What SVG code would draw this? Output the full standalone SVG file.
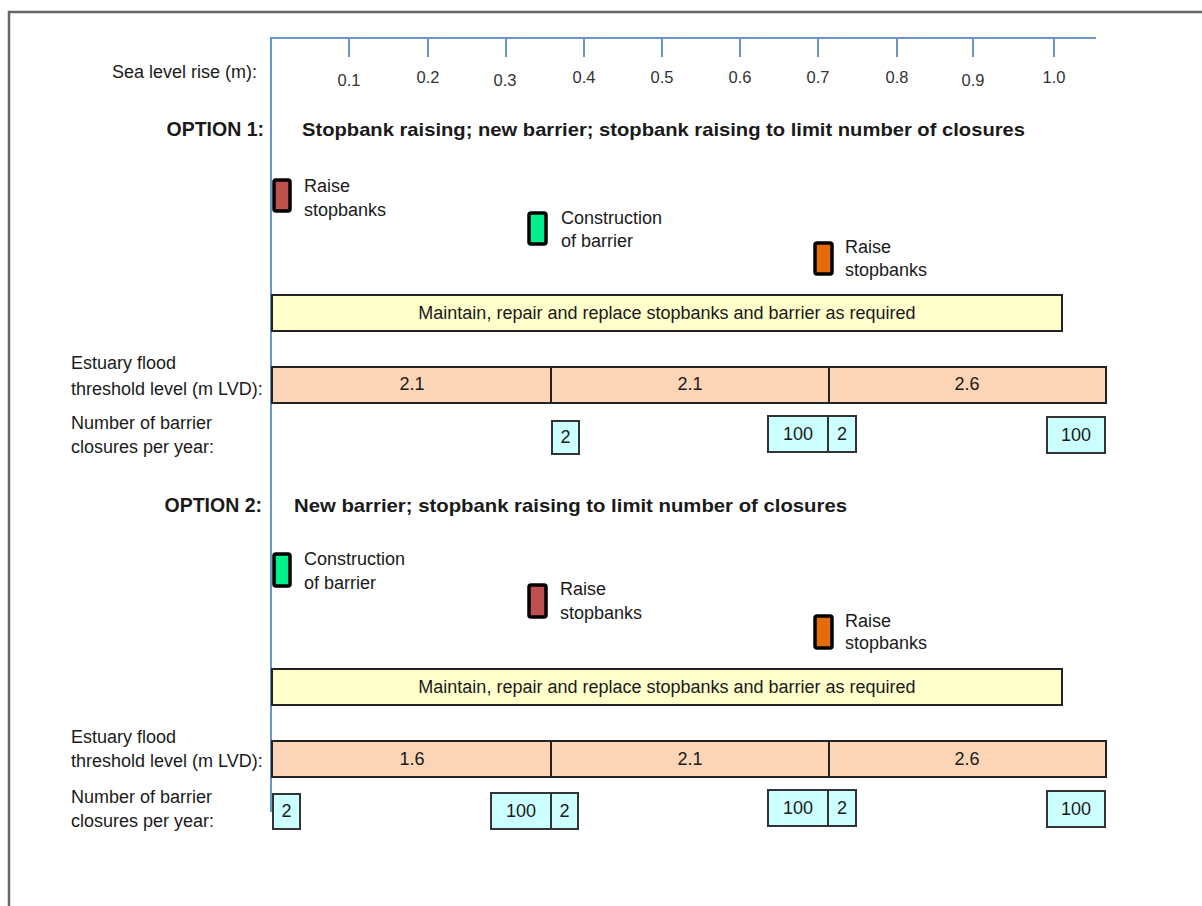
<svg xmlns="http://www.w3.org/2000/svg" width="1202" height="906" viewBox="0 0 1202 906">
<style>
text{font-family:"Liberation Sans",Arial,sans-serif;fill:#1a1a1a}
.lbl{font-size:18px}
.tick{font-size:16.5px;text-anchor:middle;fill:#333}
.ttl{font-size:18.5px;font-weight:bold}
.opt{font-size:19.5px;font-weight:bold}
.mid{text-anchor:middle}
.end{text-anchor:end}
.mk{stroke:#000;stroke-width:3.5}
.red{fill:#c0504d}
.grn{fill:#00f08c}
.org{fill:#e36c09}
.maint{fill:#ffffcc;stroke:#222;stroke-width:2}
.thr{fill:#fbd5b5;stroke:#222;stroke-width:2}
.cl{fill:#ccffff;stroke:#333;stroke-width:2}
.ax{stroke:#6b93cc;stroke-width:2;fill:none}
</style>
<rect width="1202" height="906" fill="#fff"/>
<g id="frame"><path d="M9,906 V12 H1202" fill="none" stroke="#666" stroke-width="2.5"/></g>
<g id="axis">
<path class="ax" d="M271,812 V38 H1096"/>
<path class="ax" d="M349,38v19 M428,38v19 M506,38v19 M584,38v19 M662,38v19 M740,38v19 M818,38v19 M897,38v19 M973,38v19 M1054,38v19"/>
<text class="lbl end" x="257" y="78" fill="#333">Sea level rise (m):</text>
<text class="tick" x="349" y="86">0.1</text>
<text class="tick" x="428" y="83">0.2</text>
<text class="tick" x="505" y="86">0.3</text>
<text class="tick" x="584" y="83">0.4</text>
<text class="tick" x="662" y="83">0.5</text>
<text class="tick" x="740" y="83">0.6</text>
<text class="tick" x="818" y="83">0.7</text>
<text class="tick" x="897" y="83">0.8</text>
<text class="tick" x="973" y="86">0.9</text>
<text class="tick" x="1054" y="83">1.0</text>
</g>
<g id="option1">
<text class="opt end" x="264" y="136">OPTION 1:</text>
<text class="ttl" x="302" y="136" textLength="723" lengthAdjust="spacingAndGlyphs">Stopbank raising; new barrier; stopbank raising to limit number of closures</text>
</g>
<g id="o1-raise1">
<rect class="mk red" x="274" y="180" width="16" height="31" rx="2"/>
<text class="lbl" x="304" y="192">Raise</text>
<text class="lbl" x="304" y="216">stopbanks</text>
</g>
<g id="o1-barrier">
<rect class="mk grn" x="529" y="213" width="17" height="31" rx="2"/>
<text class="lbl" x="561" y="224">Construction</text>
<text class="lbl" x="561" y="247">of barrier</text>
</g>
<g id="o1-raise2">
<rect class="mk org" x="815" y="243" width="17" height="31" rx="2"/>
<text class="lbl" x="845" y="253">Raise</text>
<text class="lbl" x="845" y="276">stopbanks</text>
</g>
<g id="o1-maintain">
<rect class="maint" x="272" y="295" width="790" height="36"/>
<text class="lbl mid" x="667" y="319">Maintain, repair and replace stopbanks and barrier as required</text>
</g>
<g id="o1-threshold">
<text class="lbl" x="71" y="369">Estuary flood</text>
<text class="lbl" x="71" y="395">threshold level (m LVD):</text>
<rect class="thr" x="272" y="367" width="279" height="36"/>
<rect class="thr" x="551" y="367" width="278" height="36"/>
<rect class="thr" x="829" y="367" width="277" height="36"/>
<text class="lbl mid" x="412" y="390">2.1</text>
<text class="lbl mid" x="690" y="390">2.1</text>
<text class="lbl mid" x="967" y="390">2.6</text>
</g>
<g id="o1-closures">
<text class="lbl" x="71" y="429">Number of barrier</text>
<text class="lbl" x="71" y="453">closures per year:</text>
<rect class="cl" x="552" y="421" width="27" height="33"/>
<text class="lbl mid" x="565.5" y="443">2</text>
<rect class="cl" x="768" y="416" width="60" height="36"/>
<text class="lbl mid" x="798" y="440">100</text>
<rect class="cl" x="828" y="416" width="28" height="36"/>
<text class="lbl mid" x="842" y="440">2</text>
<rect class="cl" x="1047" y="417" width="58" height="36"/>
<text class="lbl mid" x="1076" y="441">100</text>
</g>
<g id="option2">
<text class="opt end" x="262" y="512">OPTION 2:</text>
<text class="ttl" x="294" y="512" textLength="553" lengthAdjust="spacingAndGlyphs">New barrier; stopbank raising to limit number of closures</text>
</g>
<g id="o2-barrier">
<rect class="mk grn" x="274" y="554" width="16" height="32" rx="2"/>
<text class="lbl" x="304" y="565">Construction</text>
<text class="lbl" x="304" y="589">of barrier</text>
</g>
<g id="o2-raise1">
<rect class="mk red" x="529" y="585" width="17" height="32" rx="2"/>
<text class="lbl" x="560" y="595">Raise</text>
<text class="lbl" x="560" y="619">stopbanks</text>
</g>
<g id="o2-raise2">
<rect class="mk org" x="815" y="616" width="17" height="32" rx="2"/>
<text class="lbl" x="845" y="627">Raise</text>
<text class="lbl" x="845" y="649">stopbanks</text>
</g>
<g id="o2-maintain">
<rect class="maint" x="272" y="669" width="790" height="36"/>
<text class="lbl mid" x="667" y="693">Maintain, repair and replace stopbanks and barrier as required</text>
</g>
<g id="o2-threshold">
<text class="lbl" x="71" y="743">Estuary flood</text>
<text class="lbl" x="71" y="767">threshold level (m LVD):</text>
<rect class="thr" x="272" y="741" width="279" height="36"/>
<rect class="thr" x="551" y="741" width="278" height="36"/>
<rect class="thr" x="829" y="741" width="277" height="36"/>
<text class="lbl mid" x="412" y="765">1.6</text>
<text class="lbl mid" x="690" y="765">2.1</text>
<text class="lbl mid" x="967" y="765">2.6</text>
</g>
<g id="o2-closures">
<text class="lbl" x="71" y="803">Number of barrier</text>
<text class="lbl" x="71" y="827">closures per year:</text>
<rect class="cl" x="273" y="794" width="27" height="35"/>
<text class="lbl mid" x="286.5" y="817">2</text>
<rect class="cl" x="491" y="793" width="60" height="36"/>
<text class="lbl mid" x="521" y="817">100</text>
<rect class="cl" x="551" y="793" width="27" height="36"/>
<text class="lbl mid" x="564.5" y="817">2</text>
<rect class="cl" x="768" y="790" width="60" height="36"/>
<text class="lbl mid" x="798" y="814">100</text>
<rect class="cl" x="828" y="790" width="28" height="36"/>
<text class="lbl mid" x="842" y="814">2</text>
<rect class="cl" x="1047" y="791" width="58" height="36"/>
<text class="lbl mid" x="1076" y="815">100</text>
</g>
</svg>
